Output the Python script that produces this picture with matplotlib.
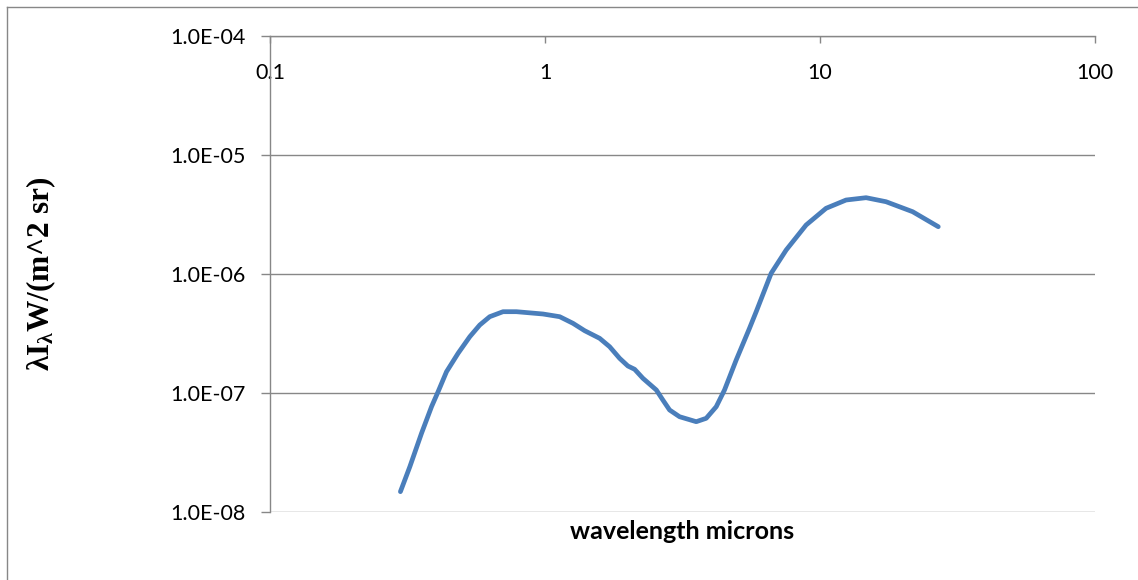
import matplotlib.pyplot as plt
from matplotlib.lines import Line2D

# spectrum: wavelength (microns) vs lambda*I_lambda (W/(m^2 sr))
wavelength = [0.298, 0.3225, 0.3556, 0.3867, 0.4086, 0.4384, 0.4831, 0.5327, 0.579, 0.6295,
              0.7036, 0.7873, 0.9833, 1.131, 1.264, 1.394, 1.58, 1.718, 1.868, 2.002,
              2.118, 2.27, 2.54, 2.683, 2.838, 3.085, 3.548, 3.857, 4.194, 4.495,
              4.958, 5.541, 5.861, 6.644, 7.534, 8.903, 10.52, 12.44, 14.71, 17.38,
              21.72, 26.92]
intensity = [1.482e-8, 2.403e-8, 4.585e-8, 7.67e-8, 1.026e-7, 1.51e-7, 2.157e-7, 2.972e-7, 3.726e-7, 4.377e-7,
             4.822e-7, 4.822e-7, 4.612e-7, 4.377e-7, 3.851e-7, 3.338e-7, 2.881e-7, 2.449e-7, 1.956e-7, 1.686e-7,
             1.582e-7, 1.329e-7, 1.06e-7, 8.73e-8, 7.2e-8, 6.32e-8, 5.74e-8, 6.13e-8, 7.67e-8, 1.06e-7,
             1.894e-7, 3.497e-7, 4.822e-7, 1.014e-6, 1.591e-6, 2.581e-6, 3.565e-6, 4.185e-6, 4.377e-6, 4.05e-6,
             3.338e-6, 2.497e-6]

xticks = [0.1, 1, 10, 100]
xtick_labels = ["0.1", "1", "10", "100"]
yticks = [1e-8, 1e-7, 1e-6, 1e-5, 1e-4]
ytick_labels = ["1.0E-08", "1.0E-07", "1.0E-06", "1.0E-05", "1.0E-04"]

grey = "#878787"
plt.rcParams["font.family"] = ["Lato", "DejaVu Sans"]
plt.rcParams["mathtext.fontset"] = "custom"
plt.rcParams["mathtext.rm"] = "Liberation Serif:bold"
plt.rcParams["mathtext.it"] = "Liberation Serif:bold"

fig = plt.figure(figsize=(11.38, 5.8), dpi=100)
ax = fig.add_axes([270 / 1138, 1 - 512 / 580, 825 / 1138, 476 / 580])

ax.plot(wavelength, intensity, color="#4a7ebb", lw=3.4, solid_capstyle="round",
        solid_joinstyle="round", zorder=3)

ax.set_xscale("log")
ax.set_yscale("log")
ax.set_xlim(0.1, 100)
ax.set_ylim(1e-8, 1e-4)
ax.set_xticks(xticks, xtick_labels)
ax.set_yticks(yticks, ytick_labels)
ax.minorticks_off()

# x axis sits on the top edge, labels hang below it
ax.xaxis.tick_top()
ax.tick_params(axis="x", direction="in", length=5, width=1, color=grey,
               labelsize=15.5, pad=-34, labelcolor="black")
ax.tick_params(axis="y", direction="out", length=6.5, width=1, color=grey,
               labelsize=15.5, pad=11, labelcolor="black")

for side in ["right", "bottom"]:
    ax.spines[side].set_visible(False)
for side in ["top", "left"]:
    ax.spines[side].set_color(grey)
    ax.spines[side].set_linewidth(1)

ax.yaxis.grid(True, color=grey, lw=1)
ax.set_axisbelow(True)

ax.set_xlabel("wavelength microns", fontsize=18, fontweight="bold")
ax.xaxis.set_label_position("bottom")
ax.xaxis.labelpad = 6
ax.set_ylabel(r"$\lambda\mathrm{I}_{\lambda}$W/(m^2 sr)", fontsize=22.5,
              family="Liberation Serif", fontweight="bold")
ax.yaxis.set_label_coords(-0.257, 0.5)

# chart frame
fig.add_artist(Line2D([6.5 / 1138, 6.5 / 1138], [0, 1 - 6.5 / 580], color=grey, lw=1))
fig.add_artist(Line2D([6.5 / 1138, 1], [1 - 6.5 / 580, 1 - 6.5 / 580], color=grey, lw=1))

fig.savefig("out.png", dpi=100)
